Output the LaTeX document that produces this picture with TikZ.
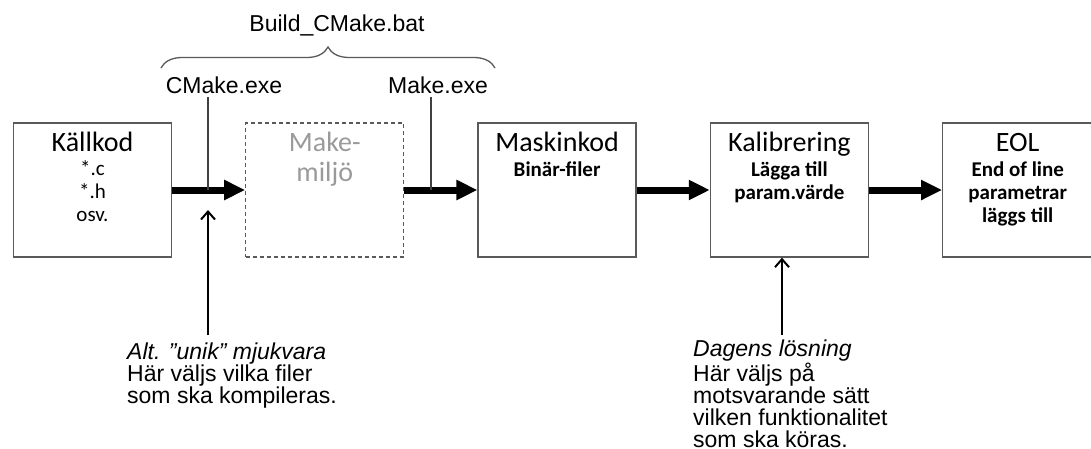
\documentclass[tikz,border=0pt]{standalone}
\usepackage{fontspec}
\setmainfont{Liberation Sans}
\newfontfamily\boxfont{Carlito}
\usetikzlibrary{arrows.meta,positioning,decorations.pathreplacing}
\definecolor{boxline}{HTML}{5A5A5A}
\definecolor{ghost}{HTML}{9A9A9A}
\definecolor{tapgray}{HTML}{404040}

\begin{document}
\begin{tikzpicture}[
    x=1pt, y=-1pt,
    stage/.style={draw=boxline, line width=1.3pt, minimum width=158pt, minimum height=134pt, inner sep=0pt},
    ghoststage/.style={stage, dash pattern=on 4pt off 3pt},
    stagetitle/.style={anchor=base, align=center, inner sep=0pt, font=\boxfont\fontsize{28}{30}\selectfont},
    stagesub/.style={anchor=base, align=center, inner sep=0pt, font=\boxfont\bfseries\fontsize{21}{23}\selectfont},
    toplabel/.style={anchor=base, inner sep=4pt, font=\fontsize{23}{26}\selectfont},
    note/.style={anchor=base west, align=left, inner sep=0pt, font=\fontsize{23}{22}\selectfont},
    flow/.style={-{Triangle[length=21pt, width=19pt]}, line width=7pt},
    pointer/.style={-{Straight Barb[length=8pt, width=14pt]}, line width=2pt},
    tapline/.style={draw=tapgray, line width=1.5pt},
    bracket/.style={draw=boxline, line width=1.3pt, decorate, decoration={brace, amplitude=21pt}}
  ]
  \useasboundingbox (0,0) rectangle (1091,448);

  % the five stages
  \node[stage] (kall) at (92.5,190) {};
  \node[ghoststage, right=73pt of kall] (makeenv) {};
  \node[stage, right=73pt of makeenv] (mask) {};
  \node[stage, right=73pt of mask] (kal) {};
  \node[stage, right=73pt of kal, minimum width=150pt] (eol) {};

  % (multi-line texts sit on the baseline of their last line)
  \node[stagetitle] (kalltitle) at ([yshift=-29pt]kall.north) {Källkod};
  \node[stagesub, font=\boxfont\fontsize{21}{23}\selectfont] (kallsub) at ([yshift=-99pt]kall.north) {*.c\\*.h\\osv.};
  \node[stagetitle, text=ghost] (maketitle) at ([yshift=-59pt]makeenv.north) {Make-\\miljö};
  \node[stagetitle] (masktitle) at ([yshift=-29pt]mask.north) {Maskinkod};
  \node[stagesub] (masksub) at ([yshift=-54pt]mask.north) {Binär-filer};
  \node[stagetitle] (kaltitle) at ([yshift=-29pt]kal.north) {Kalibrering};
  \node[stagesub] (kalsub) at ([yshift=-77pt]kal.north) {Lägga till\\param.värde};
  \node[stagetitle] (eoltitle) at ([yshift=-29pt]eol.north) {EOL};
  \node[stagesub] (eolsub) at ([yshift=-100pt]eol.north) {End of line\\parametrar\\läggs till};

  \draw[flow] (kall.east) -- (makeenv.west);
  \draw[flow] (makeenv.east) -- (mask.west);
  \draw[flow] (mask.east) -- (kal.west);
  \draw[flow] (kal.east) -- (eol.west);

  % build tools on top
  \node[toplabel] (buildbat) at (337,31) {Build\_CMake.bat};
  \coordinate (braceL) at (161,68);
  \coordinate (braceR) at (495,68);
  \draw[bracket] (braceL) -- (braceR);
  \node[toplabel] (cmkexe) at (224,93) {CMake.exe};
  \node[toplabel] (mkexe) at (438,93) {Make.exe};
  \coordinate (cmktap) at (208,190);
  \coordinate (mktap) at (431,190);
  \draw[tapline] (cmktap |- cmkexe.south) -- (cmktap);
  \draw[tapline] (mktap |- mkexe.south) -- (mktap);

  % notes below
  \node[note] (altnote) at (127,403) {\textit{Alt. ”unik” mjukvara}\\Här väljs vilka filer\\som ska kompileras.};
  \node[note] (dagnote) at (693,447) {\textit{Dagens lösning}\\Här väljs på\\motsvarande sätt\\vilken funktionalitet\\som ska köras.};
  \coordinate (altfoot) at (208,335);
  \coordinate (alttip) at (208,210);
  \coordinate (dagfoot) at (782,335);
  \draw[pointer] (altfoot) -- (alttip);
  \draw[pointer] (dagfoot) -- (dagfoot |- kal.south);
\end{tikzpicture}
\end{document}
